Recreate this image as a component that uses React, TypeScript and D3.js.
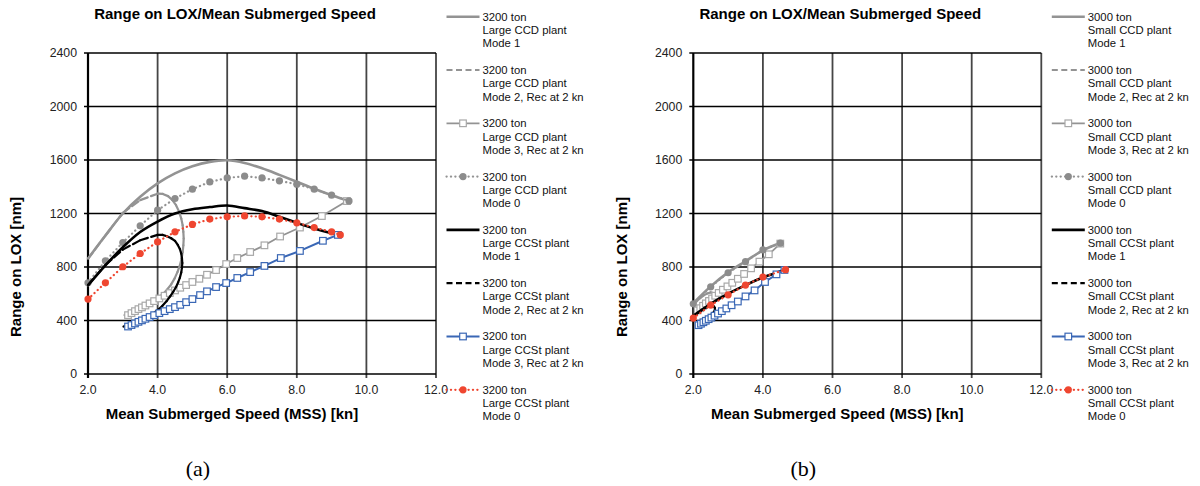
import React, { useEffect, useRef } from 'react'
import * as d3 from 'd3'

type Pt = [number, number]

// axis ticks
const xTicks = [2, 4, 6, 8, 10, 12]
const yTicks = [0, 400, 800, 1200, 1600, 2000, 2400]

// legend wording
const modeNames = ['Mode 1', 'Mode 2, Rec at 2 kn', 'Mode 3, Rec at 2 kn', 'Mode 0']
const plantsA = ['Large CCD plant', 'Large CCSt plant']
const plantsB = ['Small CCD plant', 'Small CCSt plant']

// (a) 3200 ton [MSS kn, range nm]
const largeCcdMode1: Pt[] = [[2.0, 862], [2.5, 1035], [3.0, 1200], [3.5, 1325], [4.0, 1425], [4.5, 1500], [5.0, 1553], [5.5, 1586], [6.0, 1598], [6.5, 1578], [7.0, 1538], [7.5, 1489], [8.0, 1438], [8.5, 1385], [9.0, 1337], [9.5, 1295]]
const largeCcdMode2: Pt[] = [[2.0, 862], [2.5, 1035], [3.0, 1205], [3.5, 1300], [4.0, 1348], [4.15, 1346], [4.3, 1330], [4.42, 1302], [4.53, 1262], [4.62, 1212], [4.68, 1162], [4.72, 1112], [4.74, 1062], [4.75, 1012], [4.74, 962], [4.72, 912], [4.69, 862], [4.64, 812], [4.57, 762], [4.49, 715], [4.39, 670], [4.27, 630], [4.14, 595], [4.0, 565], [3.86, 540], [3.72, 520], [3.58, 500], [3.44, 482], [3.3, 465], [3.17, 450], [3.05, 440]]
const largeCcdMode3: Pt[] = [[3.15, 440], [3.25, 455], [3.35, 470], [3.45, 485], [3.55, 498], [3.65, 512], [3.77, 528], [3.9, 545], [4.05, 565], [4.2, 585], [4.35, 605], [4.5, 625], [4.65, 645], [4.82, 665], [5.0, 688], [5.2, 712], [5.42, 742], [5.68, 777], [5.97, 822], [6.29, 867], [6.66, 912], [7.07, 962], [7.52, 1028], [8.09, 1095], [8.72, 1181], [9.44, 1293]]
const largeCcdMode0: Pt[] = [[2.0, 682], [2.5, 846], [3.0, 983], [3.5, 1108], [4.0, 1225], [4.5, 1312], [5.0, 1382], [5.5, 1436], [6.0, 1466], [6.5, 1479], [7.0, 1466], [7.5, 1444], [8.0, 1419], [8.5, 1382], [9.0, 1337], [9.5, 1294]]
const largeCcstMode1: Pt[] = [[2.0, 662], [2.5, 812], [3.0, 948], [3.5, 1062], [4.0, 1140], [4.5, 1200], [5.0, 1232], [5.5, 1248], [6.0, 1260], [6.5, 1240], [7.0, 1218], [7.5, 1176], [8.0, 1130], [8.5, 1088], [9.0, 1052], [9.25, 1038]]
const largeCcstMode2: Pt[] = [[2.0, 665], [2.5, 815], [3.0, 930], [3.5, 1000], [4.0, 1040], [4.14, 1040], [4.27, 1030], [4.39, 1015], [4.5, 995], [4.58, 965], [4.64, 935], [4.68, 900], [4.7, 865], [4.71, 830], [4.7, 795], [4.68, 760], [4.64, 720], [4.59, 685], [4.53, 650], [4.45, 615], [4.36, 580], [4.26, 545], [4.14, 510], [4.01, 480], [3.88, 455], [3.74, 435], [3.6, 417], [3.46, 400], [3.32, 385], [3.17, 370], [3.02, 355]]
const largeCcstMode3: Pt[] = [[3.15, 355], [3.25, 366], [3.35, 378], [3.45, 390], [3.55, 401], [3.65, 413], [3.77, 426], [3.9, 440], [4.05, 455], [4.2, 470], [4.35, 485], [4.5, 500], [4.65, 517], [4.82, 537], [5.0, 560], [5.22, 590], [5.42, 618], [5.68, 650], [5.97, 680], [6.29, 718], [6.66, 762], [7.07, 808], [7.54, 867], [8.09, 920], [8.75, 996], [9.18, 1040]]
const largeCcstMode0: Pt[] = [[2.0, 560], [2.5, 682], [3.0, 802], [3.5, 901], [4.0, 988], [4.5, 1063], [5.0, 1118], [5.5, 1158], [6.0, 1175], [6.5, 1182], [7.0, 1175], [7.5, 1158], [8.0, 1130], [8.5, 1095], [9.0, 1063], [9.25, 1040]]

// (b) 3000 ton
const smallCcdMode1: Pt[] = [[2.0, 530], [2.5, 655], [3.0, 760], [3.5, 843], [4.0, 925], [4.5, 980]]
const smallCcdMode2: Pt[] = [[2.0, 520], [2.1, 545], [2.2, 568], [2.3, 588], [2.4, 602], [2.5, 610], [2.58, 605], [2.62, 590], [2.62, 570], [2.58, 550], [2.5, 528], [2.4, 508], [2.3, 490], [2.2, 475], [2.1, 462]]
const smallCcdMode3: Pt[] = [[2.12, 475], [2.2, 492], [2.28, 510], [2.36, 528], [2.45, 546], [2.54, 565], [2.63, 585], [2.73, 606], [2.85, 630], [2.98, 655], [3.12, 682], [3.28, 712], [3.46, 748], [3.66, 790], [3.9, 840], [4.17, 895], [4.5, 975]]
const smallCcdMode0: Pt[] = [[2.0, 525], [2.5, 652], [3.0, 757], [3.5, 840], [4.0, 928], [4.5, 978]]
const smallCcstMode1: Pt[] = [[2.0, 436], [2.5, 525], [3.0, 600], [3.5, 665], [4.0, 722], [4.5, 768], [4.65, 782]]
const smallCcstMode2: Pt[] = [[2.0, 430], [2.1, 450], [2.2, 470], [2.3, 488], [2.4, 500], [2.5, 510], [2.58, 508], [2.62, 495], [2.62, 478], [2.58, 460], [2.5, 440], [2.42, 422], [2.33, 405], [2.24, 390], [2.15, 378]]
const smallCcstMode3: Pt[] = [[2.15, 365], [2.22, 376], [2.29, 387], [2.36, 398], [2.44, 410], [2.52, 422], [2.61, 436], [2.71, 452], [2.82, 470], [2.95, 490], [3.1, 514], [3.28, 542], [3.5, 580], [3.76, 625], [4.06, 688], [4.39, 745], [4.62, 778]]
const smallCcstMode0: Pt[] = [[2.0, 418], [2.5, 515], [3.0, 592], [3.5, 665], [4.0, 725], [4.65, 780]]

const GRAY = '#939393'
const BLUE = '#3a67b5'
const RED = '#ef4630'
const FONT = 'Arial, "Liberation Sans", sans-serif'

// one style per series slot, same order as the legend
const styles = [
    { color: GRAY, kind: 'solid', width: 2.6 },
    { color: GRAY, kind: 'dash', width: 2.2 },
    { color: GRAY, kind: 'square', width: 1.8, mark: '#a8a8a8' },
    { color: GRAY, kind: 'dot', width: 2.2, mark: '#8c8c8c' },
    { color: '#000', kind: 'solid', width: 2.6 },
    { color: '#000', kind: 'dash', width: 2.2 },
    { color: BLUE, kind: 'square', width: 2, mark: BLUE },
    { color: RED, kind: 'dot', width: 2.2, mark: RED },
]

function drawPanel(svg: any, x0: number, x1: number, series: Pt[][], plants: string[], tons: string, caption: string) {
    var y0 = 53, y1 = 374
    const x = d3.scaleLinear().domain([2, 12]).range([x0, x1])
    const y = d3.scaleLinear().domain([0, 2400]).range([y1, y0])
    const g = svg.append('g')

    // Gridlines
    g.selectAll('.vgrid').data(xTicks.slice(1)).join('line').attr('class', 'vgrid')
        .attr('x1', (d: number) => x(d)).attr('x2', (d: number) => x(d))
        .attr('y1', y0).attr('y2', y1 + 4)
        .attr('stroke', '#454545').attr('stroke-width', 1.8)
    g.selectAll('.hgrid').data(yTicks.slice(1)).join('line').attr('class', 'hgrid')
        .attr('x1', x0 - 4).attr('x2', x1)
        .attr('y1', (d: number) => y(d)).attr('y2', (d: number) => y(d))
        .attr('stroke', '#000').attr('stroke-width', 1.3)

    // Axes
    g.append('line').attr('x1', x0 - 4).attr('x2', x1).attr('y1', y1).attr('y2', y1)
        .attr('stroke', '#000').attr('stroke-width', 1.6)
    g.append('line').attr('x1', x0).attr('x2', x0).attr('y1', y0).attr('y2', y1 + 4)
        .attr('stroke', '#000').attr('stroke-width', 2.2)

    // Tick labels
    g.selectAll('.ylab').data(yTicks).join('text').attr('class', 'ylab')
        .attr('x', x0 - 11).attr('y', (d: number) => y(d)).attr('dy', '0.35em')
        .attr('text-anchor', 'end').style('font-size', '12.3px').style('fill', '#222')
        .text((d: number) => String(d))
    g.selectAll('.xlab').data(xTicks).join('text').attr('class', 'xlab')
        .attr('x', (d: number) => x(d)).attr('y', 390).attr('dy', '0.35em')
        .attr('text-anchor', 'middle').style('font-size', '12.3px').style('fill', '#222')
        .text((d: number) => d3.format('.1f')(d))

    // Titles
    g.append('text').attr('x', x0 + 147).attr('y', 18.5).attr('text-anchor', 'middle')
        .style('font-size', '15px').style('font-weight', 'bold')
        .text('Range on LOX/Mean Submerged Speed')
    g.append('text').attr('x', x0 + 144).attr('y', 418.5).attr('text-anchor', 'middle')
        .style('font-size', '15px').style('font-weight', 'bold')
        .text('Mean Submerged Speed (MSS) [kn]')
    g.append('text').attr('transform', `translate(${x0 - 72}, 267) rotate(-90)`)
        .attr('text-anchor', 'middle').attr('dy', '0.35em')
        .style('font-size', '15px').style('font-weight', 'bold')
        .text('Range on LOX [nm]')

    // Series, drawn in order like the spreadsheet does
    const smooth = d3.line<Pt>().x(d => x(d[0])).y(d => y(d[1])).curve(d3.curveCatmullRom)
    const straight = d3.line<Pt>().x(d => x(d[0])).y(d => y(d[1]))
    series.forEach((pts, i) => {
        const st: any = styles[i]
        if (st.kind === 'dash') {
            // dash pattern restarts on every segment, so dense parts look solid
            g.append('g').selectAll('line').data(d3.pairs(pts)).join('line')
                .attr('x1', (d: Pt[]) => x(d[0][0])).attr('y1', (d: Pt[]) => y(d[0][1]))
                .attr('x2', (d: Pt[]) => x(d[1][0])).attr('y2', (d: Pt[]) => y(d[1][1]))
                .attr('stroke', st.color).attr('stroke-width', st.width)
                .attr('stroke-linecap', 'round')
                .attr('stroke-dasharray', '8,3.5')
        } else {
            g.append('path').attr('d', (st.kind === 'solid' ? smooth : straight)(pts))
                .attr('fill', 'none').attr('stroke', st.color).attr('stroke-width', st.width)
                .attr('stroke-linejoin', 'round')
                .attr('stroke-linecap', st.kind === 'dot' ? 'round' : 'butt')
                .attr('stroke-dasharray', st.kind === 'dot' ? '0.2,4.2' : null)
        }
        if (st.kind === 'square') {
            g.append('g').selectAll('rect').data(pts).join('rect')
                .attr('x', (d: Pt) => x(d[0]) - 3.3).attr('y', (d: Pt) => y(d[1]) - 3.3)
                .attr('width', 6.6).attr('height', 6.6)
                .attr('fill', '#fff').attr('stroke', st.mark).attr('stroke-width', 1.2)
        }
        if (st.kind === 'dot') {
            g.append('g').selectAll('circle').data(pts).join('circle')
                .attr('cx', (d: Pt) => x(d[0])).attr('cy', (d: Pt) => y(d[1])).attr('r', 3.6)
                .attr('fill', st.mark)
        }
    })

    // Legend
    var lx0 = x1 + 10.5, lx1 = x1 + 43.5, lxm = (lx0 + lx1) / 2
    const entries: string[][] = []
    plants.forEach(p => modeNames.forEach(m => entries.push([tons, p, m])))
    entries.forEach((lines, i) => {
        const st: any = styles[i]
        const cy = 16.7 + i * 53.3
        g.append('line').attr('x1', lx0).attr('x2', lx1).attr('y1', cy).attr('y2', cy)
            .attr('stroke', st.color).attr('stroke-width', st.width)
            .attr('stroke-linecap', st.kind === 'dot' ? 'round' : 'butt')
            .attr('stroke-dasharray', st.kind === 'dash' ? '6,3.5' : st.kind === 'dot' ? '0.2,4.2' : null)
        if (st.kind === 'square') {
            g.append('rect').attr('x', lxm - 3.3).attr('y', cy - 3.3).attr('width', 6.6).attr('height', 6.6)
                .attr('fill', '#fff').attr('stroke', st.mark).attr('stroke-width', 1.2)
        }
        if (st.kind === 'dot') {
            g.append('circle').attr('cx', lxm).attr('cy', cy).attr('r', 3.6).attr('fill', st.mark)
        }
        const t = g.append('text').attr('x', x1 + 46.5).attr('y', cy).style('font-size', '11.3px').style('fill', '#111')
        lines.forEach((s, k) => {
            t.append('tspan').attr('x', x1 + 46.5).attr('y', cy + k * 13.3).attr('dy', '0.35em').text(s)
        })
    })

    // Panel caption
    g.append('text').attr('x', x0 + 110).attr('y', 476).attr('text-anchor', 'middle')
        .style('font-family', '"Times New Roman", "Liberation Serif", serif').style('font-size', '22px')
        .text(caption)
}

export default function App() {
    const ref = useRef<SVGSVGElement>(null)

    useEffect(() => {
        const svg = d3.select(ref.current)
        svg.selectAll('*').remove()
        drawPanel(svg, 88, 436,
            [largeCcdMode1, largeCcdMode2, largeCcdMode3, largeCcdMode0, largeCcstMode1, largeCcstMode2, largeCcstMode3, largeCcstMode0],
            plantsA, '3200 ton', '(a)')
        drawPanel(svg, 693.3, 1041.3,
            [smallCcdMode1, smallCcdMode2, smallCcdMode3, smallCcdMode0, smallCcstMode1, smallCcstMode2, smallCcstMode3, smallCcstMode0],
            plantsB, '3000 ton', '(b)')
    }, [])

    return (
        <svg ref={ref} width={1200} height={486}
            style={{ position: 'absolute', left: 0, top: 0, background: '#fff', fontFamily: FONT }} />
    )
}
